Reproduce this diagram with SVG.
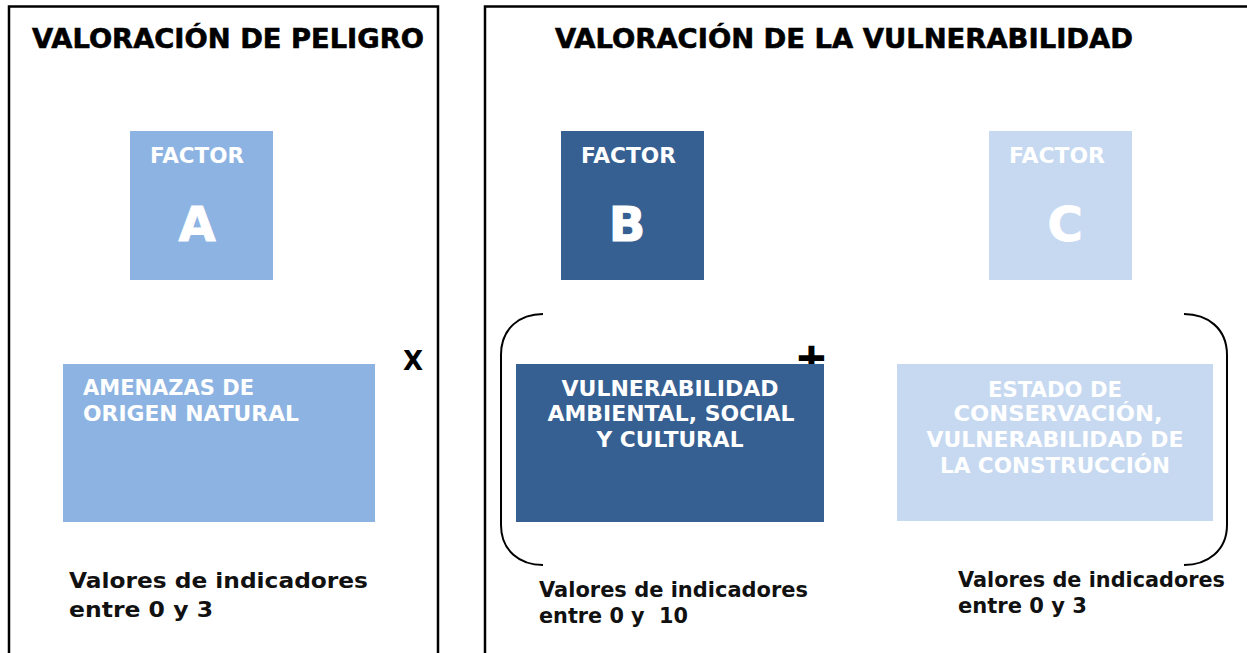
<svg xmlns="http://www.w3.org/2000/svg" width="1247" height="653" viewBox="0 0 1247 653">
  <style>
    .panel { fill: none; stroke: #000; stroke-width: 2.5; }
    .title { font-family: "DejaVu Sans", Verdana, sans-serif; font-weight: bold; font-size: 27px; fill: #000; stroke: #000; stroke-width: 0.6; }
    .fac { font-family: "DejaVu Sans", Verdana, sans-serif; font-weight: bold; font-size: 21px; fill: #fff; }
    .big { font-family: "DejaVu Sans", Verdana, sans-serif; font-weight: bold; font-size: 48px; fill: #fff; stroke: #fff; stroke-width: 1; text-anchor: middle; }
    .lbl { font-family: "DejaVu Sans", Verdana, sans-serif; font-weight: bold; font-size: 21px; fill: #fff; }
    .ctr { text-anchor: middle; }
    .note { font-family: "DejaVu Sans", Verdana, sans-serif; font-weight: bold; font-size: 22px; fill: #111; }
    .op { font-family: "DejaVu Sans", Verdana, sans-serif; font-weight: bold; fill: #000; }
    .brace { fill: none; stroke: #000; stroke-width: 2; }
    .cA { fill: #8DB3E2; }
    .cB { fill: #366092; }
    .cC { fill: #C6D9F1; }
  </style>
  <rect width="1247" height="653" fill="#fff"/>

  <g id="panel-peligro">
    <path class="panel" d="M9,660 V6.5 H438 V660"/>
    <text class="title" x="32" y="48" textLength="392" lengthAdjust="spacingAndGlyphs">VALORACIÓN DE PELIGRO</text>
  </g>
  <g id="panel-vulnerabilidad">
    <path class="panel" d="M485,660 V6.5 H1250"/>
    <text class="title" x="555" y="48" textLength="578" lengthAdjust="spacingAndGlyphs">VALORACIÓN DE LA VULNERABILIDAD</text>
  </g>

  <g id="factor-a">
    <rect class="cA" x="130" y="131" width="143" height="149"/>
    <text class="fac" x="150" y="163" textLength="94" lengthAdjust="spacingAndGlyphs">FACTOR</text>
    <text class="big" x="197" y="241">A</text>
  </g>
  <g id="factor-b">
    <rect class="cB" x="561" y="131" width="143" height="149"/>
    <text class="fac" x="581" y="163" textLength="95" lengthAdjust="spacingAndGlyphs">FACTOR</text>
    <text class="big" x="627" y="241">B</text>
  </g>
  <g id="factor-c">
    <rect class="cC" x="989" y="131" width="143" height="149"/>
    <text class="fac" x="1009" y="163" textLength="96" lengthAdjust="spacingAndGlyphs">FACTOR</text>
    <text class="big" x="1065" y="241">C</text>
  </g>

  <g id="operators">
    <text class="op" x="403" y="370" font-size="26">X</text>
    <text class="op" x="811.5" y="370" font-size="38" text-anchor="middle" stroke="#000" stroke-width="1.5">+</text>
  </g>

  <g id="amenazas">
    <rect class="cA" x="63" y="364" width="312" height="158"/>
    <text class="lbl" x="83" y="395" textLength="171" lengthAdjust="spacingAndGlyphs">AMENAZAS DE</text>
    <text class="lbl" x="83" y="421" textLength="216" lengthAdjust="spacingAndGlyphs">ORIGEN NATURAL</text>
  </g>
  <g id="vulnerabilidad-ambiental">
    <rect class="cB" x="516" y="364" width="308" height="158"/>
    <text class="lbl ctr" x="670" y="396" textLength="217" lengthAdjust="spacingAndGlyphs">VULNERABILIDAD</text>
    <text class="lbl ctr" x="671" y="421" textLength="247" lengthAdjust="spacingAndGlyphs">AMBIENTAL, SOCIAL</text>
    <text class="lbl ctr" x="670" y="447" textLength="147" lengthAdjust="spacingAndGlyphs">Y CULTURAL</text>
  </g>
  <g id="estado-conservacion">
    <rect class="cC" x="897" y="364" width="316" height="157"/>
    <text class="lbl ctr" x="1055" y="397" textLength="134" lengthAdjust="spacingAndGlyphs">ESTADO DE</text>
    <text class="lbl ctr" x="1058" y="421" textLength="209" lengthAdjust="spacingAndGlyphs">CONSERVACIÓN,</text>
    <text class="lbl ctr" x="1055" y="447" textLength="257" lengthAdjust="spacingAndGlyphs">VULNERABILIDAD DE</text>
    <text class="lbl ctr" x="1055" y="473" textLength="230" lengthAdjust="spacingAndGlyphs">LA CONSTRUCCIÓN</text>
  </g>

  <g id="connectors">
    <path class="brace" d="M543,314 C520,314 501,328 501,355 V525 C501,551 520,565 543,565"/>
    <path class="brace" d="M1184,314 C1207,314 1227,328 1227,355 V525 C1227,551 1207,565 1184,565"/>
  </g>

  <g id="notes">
    <text class="note" x="69" y="588" textLength="299" lengthAdjust="spacingAndGlyphs">Valores de indicadores</text>
    <text class="note" x="69" y="617" textLength="144" lengthAdjust="spacingAndGlyphs">entre 0 y 3</text>
    <text class="note" x="539" y="597" font-size="21" textLength="269" lengthAdjust="spacingAndGlyphs">Valores de indicadores</text>
    <text class="note" x="539" y="623" font-size="21" textLength="149" lengthAdjust="spacingAndGlyphs" xml:space="preserve">entre 0 y  10</text>
    <text class="note" x="958" y="587" font-size="21" textLength="267" lengthAdjust="spacingAndGlyphs">Valores de indicadores</text>
    <text class="note" x="958" y="613" font-size="21" textLength="129" lengthAdjust="spacingAndGlyphs">entre 0 y 3</text>
  </g>
</svg>
